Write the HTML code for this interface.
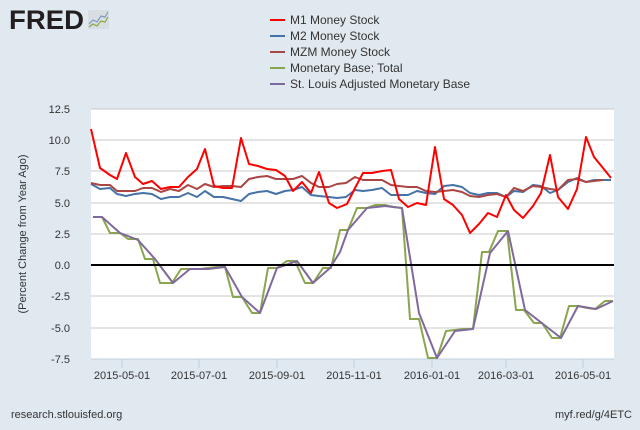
<!DOCTYPE html>
<html><head><style>
body{margin:0;width:640px;height:425px;background:#e1e9f0;font-family:"Liberation Sans",sans-serif;overflow:hidden}
</style></head><body>
<svg width="640" height="425" xmlns="http://www.w3.org/2000/svg" font-family="Liberation Sans, sans-serif">
<rect width="640" height="425" fill="#e1e9f0"/>
<text x="9" y="29" font-size="27" font-weight="bold" fill="#231f20" textLength="75" lengthAdjust="spacingAndGlyphs">FRED</text>
<rect x="88" y="10" width="21" height="19" fill="#d8dde2"/>
<polyline points="89,24 93,20 97,22 101,16 105,17 108,12" fill="none" stroke="#7a9cc0" stroke-width="1.2"/>
<polyline points="89,27 93,24 97,26 101,21 105,22 108,17" fill="none" stroke="#8aaa40" stroke-width="1.2"/>
<g font-size="12" fill="#333">
<line x1="270" y1="20" x2="285" y2="20" stroke="#ff0000" stroke-width="2"/><text x="290" y="24">M1 Money Stock</text>
<line x1="270" y1="36" x2="285" y2="36" stroke="#4572a7" stroke-width="2"/><text x="290" y="40">M2 Money Stock</text>
<line x1="270" y1="52" x2="285" y2="52" stroke="#aa4643" stroke-width="2"/><text x="290" y="56">MZM Money Stock</text>
<line x1="270" y1="68" x2="285" y2="68" stroke="#89a54e" stroke-width="2"/><text x="290" y="72">Monetary Base; Total</text>
<line x1="270" y1="84" x2="285" y2="84" stroke="#80699b" stroke-width="2"/><text x="290" y="88">St. Louis Adjusted Monetary Base</text>
</g>
<rect x="91" y="109" width="523" height="250" fill="#fff"/>
<g stroke="#c8c8c8" stroke-width="1">
<line x1="91" y1="109" x2="614" y2="109"/><line x1="91" y1="140" x2="614" y2="140"/><line x1="91" y1="171" x2="614" y2="171"/><line x1="91" y1="203" x2="614" y2="203"/><line x1="91" y1="234" x2="614" y2="234"/><line x1="91" y1="296" x2="614" y2="296"/><line x1="91" y1="328" x2="614" y2="328"/>
</g>
<line x1="91" y1="359" x2="614" y2="359" stroke="#c0d0e0"/>
<g stroke="#c0d0e0"><line x1="122" y1="359" x2="122" y2="368"/><line x1="199" y1="359" x2="199" y2="368"/><line x1="277" y1="359" x2="277" y2="368"/><line x1="354" y1="359" x2="354" y2="368"/><line x1="432" y1="359" x2="432" y2="368"/><line x1="506" y1="359" x2="506" y2="368"/><line x1="583" y1="359" x2="583" y2="368"/></g>
<g font-size="11" fill="#333" text-anchor="end">
<text x="70" y="113">12.5</text><text x="70" y="144">10.0</text><text x="70" y="175">7.5</text><text x="70" y="207">5.0</text><text x="70" y="238">2.5</text><text x="70" y="269">0.0</text><text x="70" y="300">-2.5</text><text x="70" y="332">-5.0</text><text x="70" y="363">-7.5</text>
</g>
<g font-size="11" fill="#333" text-anchor="middle">
<text x="122" y="379">2015-05-01</text><text x="199" y="379">2015-07-01</text><text x="277" y="379">2015-09-01</text><text x="354" y="379">2015-11-01</text><text x="432" y="379">2016-01-01</text><text x="506" y="379">2016-03-01</text><text x="583" y="379">2016-05-01</text>
</g>
<text transform="translate(26,234) rotate(-90)" font-size="11" fill="#333" text-anchor="middle">(Percent Change from Year Ago)</text>
<g fill="none" stroke-width="2" stroke-linejoin="round">
<polyline stroke="#89a54e" points="93,217 102,217 110,233 120,233 128,239 138,239 145,259 153,259 160,283 172,283 181,269 190,269 200,269 208,268 217,267 225,267 233,297 242,297 252,313 260,313 268,268 277,268 287,261 295,261 305,283 313,283 323,268 331,268 340,230 348,230 357,208 367,208 375,205 385,205 393,207 402,208 410,319 419,319 428,358 437,358 446,331 455,330 464,329 473,329 482,252 489,252 498,231 507,231 516,310 524,310 534,323 542,323 552,338 560,338 569,306 578,306 587,308 595,309 605,301 613,301"/>
<polyline stroke="#80699b" points="93,217 102,217 120,233 138,240 155,259 173,283 190,269 208,269 225,267 242,297 260,313 277,268 297,261 313,283 330,268 340,252 348,230 367,208 385,206 402,208 419,313 437,358 455,331 473,329 490,253 508,231 525,310 543,324 561,338 578,306 596,309 613,301"/>
<polyline stroke="#4572a7" points="91,184 100,189 110,188 117,194 126,196 135,194 143,193 152,194 161,199 170,197 179,197 188,193 197,197 205,191 214,197 223,197 232,199 241,201 249,194 258,192 267,191 276,194 285,191 293,190 302,187 311,195 319,196 329,197 337,198 346,197 355,190 363,191 372,190 382,188 391,195 399,195 408,195 417,191 426,193 435,194 444,186 453,185 462,187 470,193 479,195 488,193 497,193 506,197 514,191 523,192 533,185 541,186 550,193 558,190 568,182 577,178 586,182 594,180 603,180 611,180"/>
<polyline stroke="#aa4643" points="91,183 100,185 110,185 117,191 126,191 135,191 143,188 152,188 161,192 170,189 179,191 188,185 197,189 205,184 214,187 223,186 232,186 241,187 249,179 258,177 267,176 276,179 285,179 293,179 302,176 311,183 319,187 329,187 337,184 346,183 355,177 363,180 372,180 382,180 391,185 399,186 408,187 417,187 426,191 435,192 444,191 453,190 462,192 470,196 479,197 488,195 497,194 506,197 514,188 523,191 533,186 541,187 550,189 558,190 568,180 577,179 586,182 594,181 603,180"/>
<polyline stroke="#ff0000" points="91,129 100,168 110,175 117,179 126,153 135,177 143,184 152,181 161,189 170,187 179,187 188,177 197,169 205,149 214,186 223,188 232,188 241,138 249,164 258,166 267,169 276,170 285,176 293,191 302,182 311,193 319,172 329,203 337,208 347,204 355,188 363,173 372,173 382,171 391,170 399,199 408,207 417,203 426,205 435,147 444,199 453,205 462,215 470,233 479,224 488,213 497,217 506,195 514,210 523,218 533,206 541,193 550,155 558,197 568,209 577,189 586,137 594,157 603,168 611,178"/>
</g>
<line x1="91" y1="265" x2="614" y2="265" stroke="#000" stroke-width="2"/>
<text x="11" y="418" font-size="11" fill="#333">research.stlouisfed.org</text>
<text x="632" y="418" font-size="11" fill="#333" text-anchor="end">myf.red/g/4ETC</text>
</svg>
</body></html>
